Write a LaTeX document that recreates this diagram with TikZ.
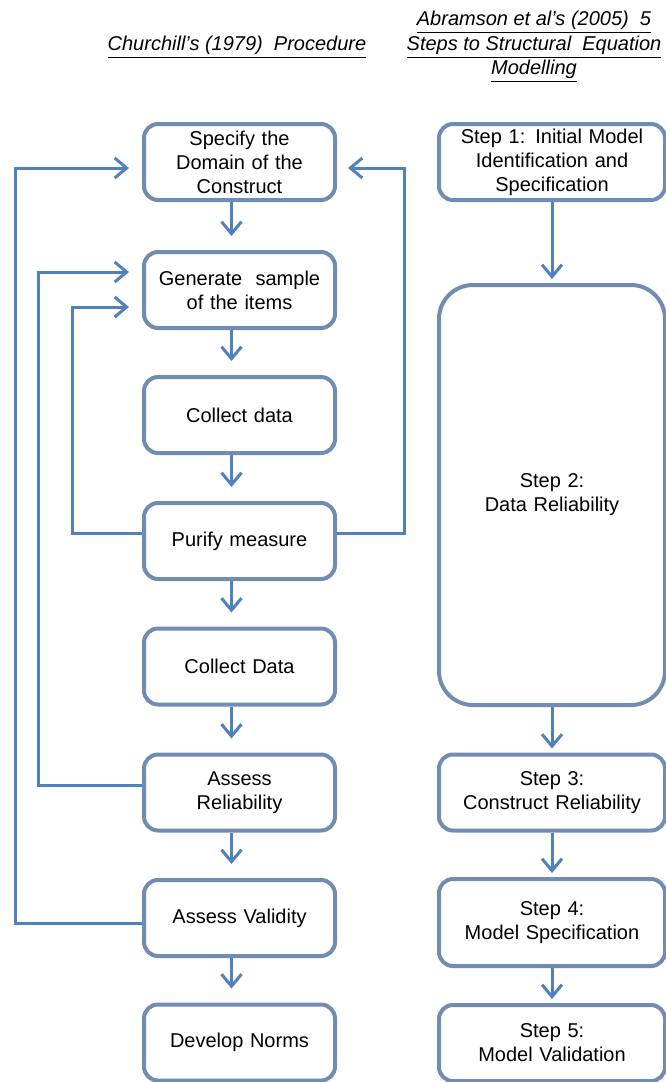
\documentclass[tikz,border=0pt]{standalone}
\usepackage{fontspec}
\setmainfont{Liberation Sans}
\usepackage{tikz}
\usetikzlibrary{arrows.meta, positioning}
\definecolor{boxline}{RGB}{112,140,178}
\definecolor{flow}{RGB}{79,129,189}

\begin{document}
\begin{tikzpicture}[x=0.5pt, y=-0.5pt,
            box/.style={draw=boxline, line width=2pt, rounded corners=7pt, fill=white, minimum width=95.5pt, minimum height=38pt, text width=92pt, inner sep=0pt, align=center, font=\fontsize{10}{12}\selectfont},
            stepbox/.style={box, minimum width=113pt, text width=110pt},
            head/.style={align=center, font=\fontsize{10}{12.2}\selectfont\itshape},
            arrow/.style={-{Straight Barb[length=6pt, width=10pt]}, line width=1.5pt, flow},
            back/.style={arrow, rounded corners=0pt}]

            \useasboundingbox (0,0) rectangle (665,1082);

            % headings
            \node[head] (hleft) at (237,47) {\underline{Churchill's (1979)~ Procedure}};
            \node[head] (hright) at (534,47) {\underline{Abramson et al's (2005)~ 5}\\ \underline{Steps to Structural~ Equation}\\ \underline{Modelling}};

            % Churchill
            \node[box] (spec) at (239.5,162) {Specify the\\ Domain of the\\ Construct};
            \node[box] (gen) at (239.5,290) {Generate~ sample\\ of the items};
            \node[box] (coll1) at (239.5,415) {Collect data};
            \node[box] (pur) at (239.5,541) {Purify measure};
            \node[box] (coll2) at (239.5,666.5) {Collect Data};
            \node[box] (rel) at (239.5,792.5) {Assess\\ Reliability};
            \node[box] (val) at (239.5,918) {Assess Validity};
            \node[box] (norms) at (239.5,1042.5) {Develop Norms};

            % Abramson
            \node[stepbox] (s1) at (552,162) {Step 1: Initial Model\\ Identification and\\ Specification};
            \node[stepbox, minimum height=210pt, rounded corners=17pt] (s2) at (552,495) {Step 2:\\ Data Reliability};
            \node[stepbox] (s3) at (552,792.5) {Step 3:\\ Construct Reliability};
            \node[stepbox, minimum height=43.5pt] (s4) at (552,922.5) {Step 4:\\ Model Specification};
            \node[stepbox] (s5) at (552,1043) {Step 5:\\ Model Validation};

            \foreach \a/\b in {spec/gen, gen/coll1, coll1/pur, pur/coll2, coll2/rel, rel/val, val/norms}
                \draw[arrow, shorten >=7pt] ([xshift=-4pt]\a.south) -- ([xshift=-4pt]\b.north);
            \foreach \a/\b in {s1/s2, s2/s3, s3/s4, s4/s5}
                \draw[arrow, shorten >=2pt] (\a) -- (\b);

            % feedback loops
            \coordinate (busA) at (15,0);
            \coordinate (busB) at (38,0);
            \coordinate (busC) at (72,0);
            \coordinate (busD) at (404,0);
            \draw[back, shorten >=6.5pt] ([yshift=-2.5pt]val.west) -- ([yshift=-2.5pt]val.west -| busA) |- ([yshift=-3pt]spec.west);
            \draw[back, shorten >=6.5pt] ([yshift=3.75pt]rel.west) -- ([yshift=3.75pt]rel.west -| busB) |- ([yshift=9pt]gen.west);
            \draw[back, shorten >=6.5pt] ([yshift=4pt]pur.west) -- ([yshift=4pt]pur.west -| busC) |- ([yshift=-8.5pt]gen.west);
            \draw[back, shorten >=5.5pt] ([yshift=4pt]pur.east) -- ([yshift=4pt]pur.east -| busD) |- ([yshift=-3pt]spec.east);
        \end{tikzpicture}
\end{document}
